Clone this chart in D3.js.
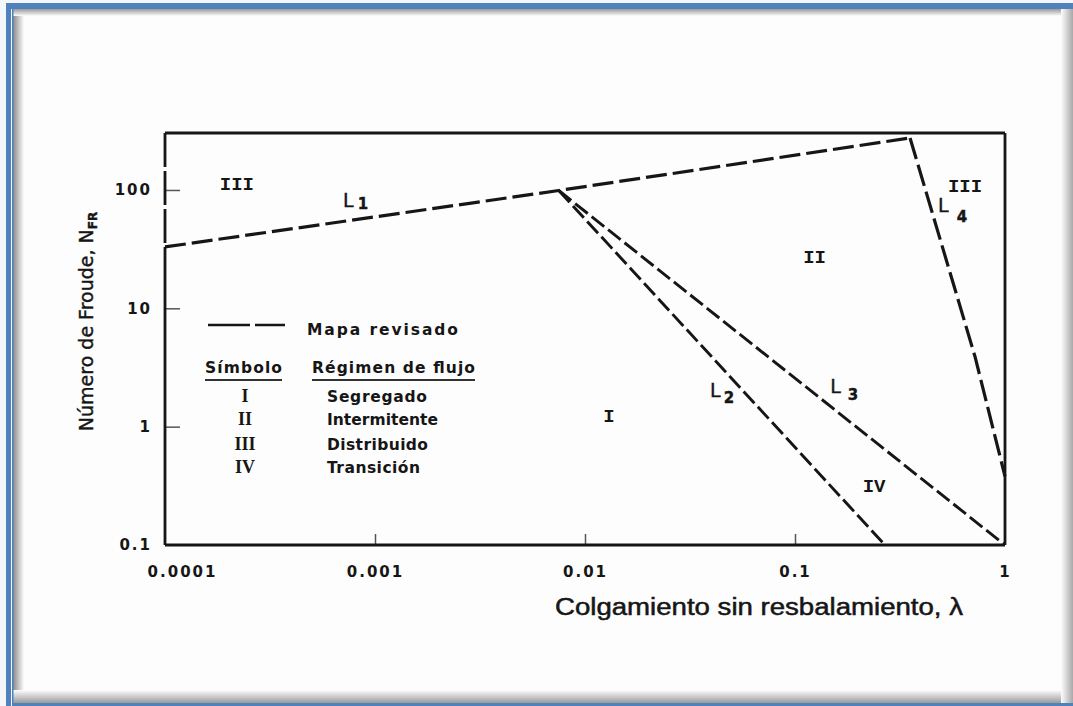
<!DOCTYPE html>
<html><head><meta charset="utf-8">
<script src="https://cdn.jsdelivr.net/npm/d3@7"></script>
<style>html,body{margin:0;padding:0;background:#fff;} svg{display:block}</style>
</head><body>
<svg id="c" width="1073" height="706"></svg>
<script>
// ---- data ----
const xTicks = [0.0001, 0.001, 0.01, 0.1, 1];
const xTickLabels = ["0.0001", "0.001", "0.01", "0.1", "1"];
const yTicks = [0.1, 1, 10, 100];
const yTickLabels = ["0.1", "1", "10", "100"];

const l1Lambda = [0.0001, 0.0075, 0.353];
const l1Nfr    = [33, 99, 275];
const l2Lambda = [0.0075, 0.268];
const l2Nfr    = [99, 0.1];
const l3Lambda = [0.0075, 1];
const l3Nfr    = [99, 0.1];
const l4Lambda = [0.353, 0.72, 1];
const l4Nfr    = [275, 3.9, 0.38];

const regionLabels = ["III", "III", "II", "I", "IV"];
const regionLambda = [0.00022, 0.645, 0.124, 0.013, 0.238];
const regionNfr    = [100, 96, 24.2, 1.1, 0.28];

const lineLabelSubs   = ["1", "2", "3", "4"];
const lineLabelLambda = [0.000705, 0.0394, 0.147, 0.48];
const lineLabelNfr    = [72, 1.78, 1.93, 65];

const legendLineLabel = "Mapa revisado";
const legendHeaders = ["Símbolo", "Régimen de flujo"];
const regimeSymbols = ["I", "II", "III", "IV"];
const regimeNames = ["Segregado", "Intermitente", "Distribuido", "Transición"];

const xTitle = "Colgamiento sin resbalamiento, λ";
const yTitle = "Número de Froude, N";
const yTitleSub = "FR";

// ---- drawing ----
const W = 1073, H = 706;
const svg = d3.select("#c");
const defs = svg.append("defs");
function grad(id, x1, y1, x2, y2, c1, c2) {
  const g = defs.append("linearGradient").attr("id", id)
    .attr("x1", x1).attr("y1", y1).attr("x2", x2).attr("y2", y2);
  g.append("stop").attr("offset", "0").attr("stop-color", c1);
  g.append("stop").attr("offset", "1").attr("stop-color", c2);
}
grad("gl", 0, 0, 1, 0, "#8a8a8a", "#fdfdfd");
grad("gt", 0, 0, 0, 1, "#9a9a9a", "#fdfdfd");
grad("gb", 0, 0, 0, 1, "#fdfdfd", "#9a9a9a");
grad("gr", 0, 0, 1, 0, "#fdfdfd", "#a8a8a8");

// page frame
svg.append("rect").attr("width", W).attr("height", H).attr("fill", "#f4f6f9");
svg.append("rect").attr("x", 13).attr("y", 9).attr("width", W - 13).attr("height", 694).attr("fill", "#fdfdfd");
svg.append("rect").attr("x", 13).attr("y", 9).attr("width", 11).attr("height", 694).attr("fill", "url(#gl)");
svg.append("rect").attr("x", 13).attr("y", 9).attr("width", W - 13).attr("height", 7).attr("fill", "url(#gt)");
svg.append("rect").attr("x", 13).attr("y", 690).attr("width", W - 13).attr("height", 13).attr("fill", "url(#gb)");
svg.append("rect").attr("x", 1061).attr("y", 9).attr("width", 12).attr("height", 694).attr("fill", "url(#gr)");
svg.append("rect").attr("x", 6).attr("y", 3).attr("width", W - 6).attr("height", 6).attr("fill", "#4f81bd");
svg.append("rect").attr("x", 6).attr("y", 3).attr("width", 5).attr("height", H - 3).attr("fill", "#4f81bd");
svg.append("rect").attr("x", 12).attr("y", 9).attr("width", 1.5).attr("height", H - 9).attr("fill", "#4f81bd");
svg.append("rect").attr("x", 12).attr("y", 703).attr("width", W - 12).attr("height", 3).attr("fill", "#4f81bd");

// scales
const x = d3.scaleLog().domain([1e-4, 1]).range([165, 1005]);
const y = d3.scaleLog().domain([0.1, 303]).range([545, 133]);

const ink = "#161616";

// axes (ticks inward)
const xAxis = d3.axisBottom(x).tickValues(xTicks)
  .tickFormat((d, i) => xTickLabels[i]).tickSize(-11).tickPadding(21);
const gx = svg.append("g").attr("transform", `translate(0,${y(0.1)})`).call(xAxis);
const yAxis = d3.axisLeft(y).tickValues(yTicks)
  .tickFormat((d, i) => yTickLabels[i]).tickSize(-15).tickPadding(13);
const gy = svg.append("g").attr("transform", `translate(${x(1e-4)},0)`).call(yAxis);
[gx, gy].forEach(g => {
  g.select(".domain").remove();
  g.selectAll(".tick line").attr("stroke", "#555").attr("stroke-width", 1.5);
  g.selectAll(".tick text").attr("fill", ink)
    .style("font-family", "'DejaVu Sans'").style("font-weight", "bold")
    .style("font-size", "15px").style("letter-spacing", "2px");
});
gx.selectAll(".tick text").filter((d, i) => i === 0).attr("dx", 17);
gx.selectAll(".tick line").filter(d => d === 1e-4 || d === 1).remove();
gy.selectAll(".tick line").filter(d => d === 0.1).remove();

// plot frame
const fr = svg.append("g").attr("stroke", ink).attr("stroke-width", 2.8).attr("fill", "none");
fr.append("line").attr("x1", x(1e-4)).attr("x2", x(1)).attr("y1", y(303)).attr("y2", y(303));
fr.append("line").attr("x1", x(1e-4)).attr("x2", x(1)).attr("y1", y(0.1)).attr("y2", y(0.1));
fr.append("line").attr("x1", x(1)).attr("x2", x(1)).attr("y1", y(303)).attr("y2", y(0.1));
fr.append("line").attr("x1", x(1e-4)).attr("x2", x(1e-4)).attr("y1", y(l1Nfr[0])).attr("y2", y(0.1));
fr.append("line").attr("x1", x(1e-4)).attr("x2", x(1e-4)).attr("y1", y(303)).attr("y2", y(l1Nfr[0]))
  .attr("stroke-dasharray", "34,4");

// boundary lines
const line = d3.line().x(d => x(d[0])).y(d => y(d[1]));
const lines = [
  {lam: l1Lambda, n: l1Nfr, dash: "21,6", w: 3.2},
  {lam: l2Lambda, n: l2Nfr, dash: "16,5", w: 2.9},
  {lam: l3Lambda, n: l3Nfr, dash: "16,5", w: 2.9},
  {lam: l4Lambda, n: l4Nfr, dash: "22,6", w: 3.2}
];
lines.forEach(L => {
  svg.append("path").datum(L.lam.map((v, i) => [v, L.n[i]]))
    .attr("d", line).attr("fill", "none").attr("stroke", ink)
    .attr("stroke-width", L.w).attr("stroke-dasharray", L.dash);
});

// region labels
regionLabels.forEach((t, i) => {
  svg.append("text").attr("x", x(regionLambda[i])).attr("y", y(regionNfr[i]))
    .attr("text-anchor", "middle").attr("fill", ink)
    .style("font-family", "'Liberation Mono'").style("font-weight", "bold")
    .style("font-size", "19px").text(t);
});

// line labels L1..L4
const subDx = [4, 3, 7, 8];
const subDy = [2, 6, 7, 10];
lineLabelSubs.forEach((s, i) => {
  const t = svg.append("text").attr("x", x(lineLabelLambda[i])).attr("y", y(lineLabelNfr[i]))
    .attr("fill", ink).style("font-family", "'DejaVu Sans'")
    .attr("stroke", ink).attr("stroke-width", 0.4);
  t.append("tspan").style("font-size", "19px").text("L");
  t.append("tspan").attr("dx", subDx[i]).attr("dy", subDy[i])
    .style("font-size", "15px").style("font-weight", "bold").text(s);
});

// legend
const lg = svg.append("g").attr("fill", ink);
lg.append("line").attr("x1", 208).attr("x2", 285).attr("y1", 325).attr("y2", 325)
  .attr("stroke", ink).attr("stroke-width", 2.6).attr("stroke-dasharray", "42,5");
const lgFont = sel => sel.style("font-family", "'DejaVu Sans'").style("font-weight", "bold").style("font-size", "15.5px");
lg.append("text").attr("x", 307).attr("y", 335).attr("textLength", 151).call(lgFont).text(legendLineLabel);
lg.append("text").attr("x", 205).attr("y", 373).attr("textLength", 77).call(lgFont).text(legendHeaders[0]);
lg.append("text").attr("x", 312).attr("y", 373).attr("textLength", 163).call(lgFont).text(legendHeaders[1]);
lg.append("line").attr("x1", 205).attr("x2", 282).attr("y1", 380).attr("y2", 380).attr("stroke", "#333").attr("stroke-width", 2.2);
lg.append("line").attr("x1", 312).attr("x2", 475).attr("y1", 380).attr("y2", 380).attr("stroke", "#333").attr("stroke-width", 2.2);
const rowY = [402, 425, 450, 473];
const nameLen = [100, 111, 101, 93];
regimeSymbols.forEach((s, i) => {
  lg.append("text").attr("x", 245).attr("y", rowY[i]).attr("text-anchor", "middle")
    .style("font-family", "'Liberation Serif'").style("font-weight", "bold").style("font-size", "18px").text(s);
  lg.append("text").attr("x", 327).attr("y", rowY[i]).attr("textLength", nameLen[i]).call(lgFont).text(regimeNames[i]);
});

// axis titles
svg.append("text").attr("x", 555).attr("y", 615).attr("textLength", 408)
  .attr("lengthAdjust", "spacingAndGlyphs").attr("fill", ink)
  .attr("stroke", ink).attr("stroke-width", 0.5)
  .style("font-family", "'Liberation Sans'").style("font-size", "23px").text(xTitle);
const yt = svg.append("text").attr("transform", "translate(93,321.5) rotate(-90)")
  .attr("text-anchor", "middle").attr("fill", ink)
  .attr("stroke", ink).attr("stroke-width", 0.4)
  .style("font-family", "'DejaVu Sans'").style("font-size", "19px");
yt.append("tspan").text(yTitle);
yt.append("tspan").attr("dy", 4).style("font-size", "12px").style("font-weight", "bold").text(yTitleSub);
</script>
</body></html>
